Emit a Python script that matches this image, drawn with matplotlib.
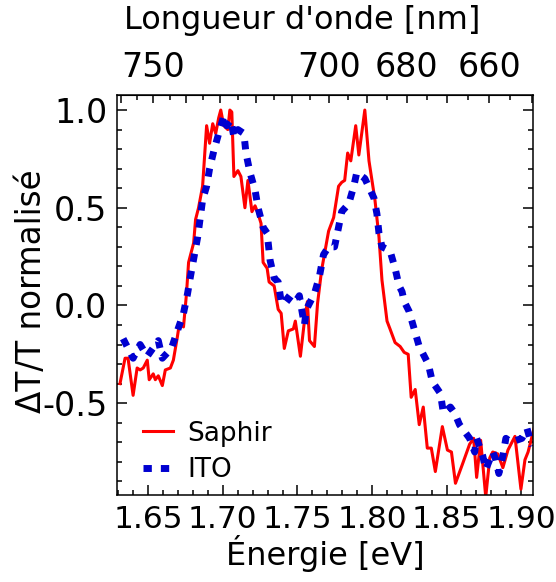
import numpy as np
import matplotlib
matplotlib.use("Agg")
import matplotlib.pyplot as plt
from matplotlib.ticker import MultipleLocator, FixedLocator, FixedFormatter

# Saphir (red, solid) : energy [eV], normalised dT/T
saphir_e = [1.6310, 1.6344, 1.6364, 1.6398, 1.6425, 1.6445, 1.6466, 1.6493, 1.6506, 1.6533,
            1.6547, 1.6567, 1.6594, 1.6614, 1.6648, 1.6668, 1.6695, 1.6709, 1.6736, 1.6756,
            1.6770, 1.6804, 1.6817, 1.6837, 1.6864, 1.6891, 1.6911, 1.6932, 1.6952, 1.6972,
            1.6986, 1.7006, 1.7033, 1.7047, 1.7060, 1.7074, 1.7101, 1.7121, 1.7148, 1.7168,
            1.7195, 1.7216, 1.7236, 1.7256, 1.7270, 1.7297, 1.7310, 1.7344, 1.7371, 1.7391,
            1.7412, 1.7439, 1.7473, 1.7486, 1.7520, 1.7547, 1.7567, 1.7581, 1.7614, 1.7635,
            1.7662, 1.7709, 1.7743, 1.7776, 1.7797, 1.7817, 1.7837, 1.7858, 1.7891, 1.7912,
            1.7952, 1.7980, 1.8000, 1.8020, 1.8047, 1.8067, 1.8101, 1.8121, 1.8155, 1.8189,
            1.8216, 1.8243, 1.8263, 1.8290, 1.8317, 1.8344, 1.8371, 1.8398, 1.8425, 1.8472,
            1.8506, 1.8533, 1.8560, 1.8608, 1.8655, 1.8682, 1.8702, 1.8729, 1.8763, 1.8790,
            1.8810, 1.8844, 1.8878, 1.8912, 1.8959, 1.8999, 1.9026, 1.9047, 1.9087]
saphir_v = [-0.40, -0.27, -0.27, -0.46, -0.32, -0.33, -0.32, -0.28, -0.38, -0.35,
            -0.38, -0.36, -0.41, -0.33, -0.32, -0.28, -0.16, -0.09, -0.11, 0.06,
            0.22, 0.32, 0.44, 0.50, 0.61, 0.92, 0.83, 0.93, 0.88, 0.96,
            1.00, 0.92, 0.90, 1.00, 0.99, 0.66, 0.69, 0.66, 0.50, 0.64,
            0.48, 0.51, 0.47, 0.42, 0.22, 0.19, 0.12, 0.10, -0.02, -0.04,
            -0.22, -0.13, -0.12, -0.08, -0.26, -0.08, 0.02, -0.18, -0.21, 0.01,
            0.18, 0.38, 0.45, 0.61, 0.63, 0.64, 0.78, 0.74, 0.92, 0.77,
            1.00, 0.74, 0.64, 0.54, 0.35, 0.13, -0.08, -0.12, -0.19, -0.21,
            -0.24, -0.25, -0.47, -0.43, -0.61, -0.52, -0.73, -0.73, -0.85, -0.62,
            -0.74, -0.75, -0.91, -0.81, -0.71, -0.68, -0.88, -0.69, -0.98, -0.78,
            -0.75, -0.76, -0.83, -0.74, -0.67, -0.94, -0.79, -0.75, -0.63]

# ITO (blue, dashed)
ito_e = [1.6331, 1.6398, 1.6445, 1.6493, 1.6567, 1.6594, 1.6655, 1.6695, 1.6736, 1.6763,
         1.6783, 1.6831, 1.6864, 1.6891, 1.6911, 1.6939, 1.6972, 1.7006, 1.7026, 1.7054,
         1.7074, 1.7101, 1.7141, 1.7155, 1.7182, 1.7216, 1.7236, 1.7270, 1.7297, 1.7317,
         1.7344, 1.7371, 1.7391, 1.7412, 1.7479, 1.7513, 1.7533, 1.7547, 1.7560, 1.7614,
         1.7648, 1.7675, 1.7709, 1.7749, 1.7776, 1.7797, 1.7844, 1.7878, 1.7898, 1.7952,
         1.8013, 1.8033, 1.8047, 1.8067, 1.8121, 1.8155, 1.8182, 1.8202, 1.8216, 1.8249,
         1.8283, 1.8317, 1.8378, 1.8405, 1.8459, 1.8479, 1.8526, 1.8554, 1.8587, 1.8655,
         1.8689, 1.8702, 1.8743, 1.8763, 1.8810, 1.8831, 1.8851, 1.8878, 1.8898, 1.8932,
         1.9006, 1.9040, 1.9074]
ito_v = [-0.17, -0.27, -0.20, -0.26, -0.18, -0.27, -0.22, -0.13, -0.04, 0.06,
         0.15, 0.35, 0.54, 0.61, 0.70, 0.79, 0.88, 0.97, 0.92, 0.95,
         0.86, 0.90, 0.88, 0.78, 0.68, 0.59, 0.50, 0.40, 0.37, 0.23,
         0.14, 0.12, 0.02, 0.05, 0.01, 0.05, -0.04, -0.10, -0.02, 0.06,
         0.15, 0.26, 0.30, 0.30, 0.40, 0.48, 0.52, 0.61, 0.68, 0.65,
         0.55, 0.47, 0.37, 0.30, 0.28, 0.19, 0.10, 0.07, 0.02, -0.03,
         -0.12, -0.21, -0.30, -0.39, -0.45, -0.55, -0.52, -0.55, -0.61, -0.68,
         -0.75, -0.68, -0.77, -0.84, -0.75, -0.79, -0.86, -0.77, -0.68, -0.70,
         -0.68, -0.63, -0.72]

wl_labels = [750, 700, 680, 660]
hc = 1239.84  # eV.nm

plt.rcParams['font.family'] = ['DejaVu Sans']
fig = plt.figure(figsize=(5.56, 5.82), dpi=100)
ax = fig.add_axes([117/556, 1 - 495/582, 416/556, 400/582])

ax.plot(saphir_e, saphir_v, color='#ff0000', lw=2.2, label='Saphir')
ax.plot(ito_e, ito_v, color='#0000d0', lw=5, dashes=(1.2, 1.3), label='ITO')

ax.set_xlim(1.629, 1.908)
ax.set_ylim(-0.97, 1.077)

ax.xaxis.set_major_locator(MultipleLocator(0.05))
ax.xaxis.set_minor_locator(MultipleLocator(0.01))
ax.yaxis.set_major_locator(MultipleLocator(0.5))
ax.yaxis.set_minor_locator(MultipleLocator(0.1))
ax.xaxis.set_major_formatter(plt.FuncFormatter(lambda v, p: '%.2f' % v))
ax.yaxis.set_major_formatter(plt.FuncFormatter(lambda v, p: '%.1f' % v))

ax.tick_params(which='both', direction='in', top=False, right=True, width=1.1)
ax.tick_params(which='major', length=7, pad=7)
ax.tick_params(which='minor', length=3.5)
ax.tick_params(axis='x', labelsize=22.5)
ax.tick_params(axis='y', labelsize=24)
for s in ax.spines.values():
    s.set_linewidth(1.1)

ax.set_xlabel('Énergie [eV]', fontsize=23, labelpad=1)
ax.set_ylabel('ΔT/T normalisé', fontsize=23.5)
ax.yaxis.set_label_coords(-0.165, 0.51)

# wavelength axis on top
top = ax.secondary_xaxis('top', functions=(lambda e: hc / np.maximum(e, 1e-6),
                                           lambda w: hc / np.maximum(w, 1e-6)))
major_wl = list(range(760, 649, -10))
top.xaxis.set_major_locator(FixedLocator(major_wl))
top.xaxis.set_major_formatter(FixedFormatter([str(w) if w in wl_labels else '' for w in major_wl]))
top.xaxis.set_minor_locator(FixedLocator(list(range(765, 649, -10))))
top.tick_params(which='both', direction='in', width=1.1, labelsize=24)
top.tick_params(which='major', length=6, pad=8)
top.tick_params(which='minor', length=3.5)
top.set_xlabel("Longueur d'onde [nm]", fontsize=23, labelpad=16)
top.xaxis.label.set_x(0.445)

ax.legend(loc='lower left', bbox_to_anchor=(0.005, -0.03), frameon=False, fontsize=19,
          handlelength=1.15, handletextpad=0.55, labelspacing=0.4)

fig.savefig('out.png', dpi=100)
